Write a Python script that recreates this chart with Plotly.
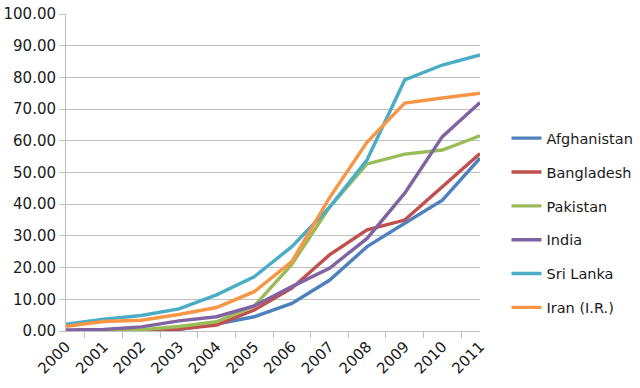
import plotly.graph_objects as go

years = ["2000", "2001", "2002", "2003", "2004", "2005", "2006", "2007", "2008", "2009", "2010", "2011"]
afghanistan = [0.05, 0.1, 0.1, 0.5, 2.2, 4.5, 8.7, 16.0, 26.6, 34.0, 41.3, 54.5]
bangladesh = [0.05, 0.1, 0.2, 0.6, 1.9, 6.6, 13.5, 24.0, 31.9, 35.0, 45.5, 56.0]
pakistan = [0.1, 0.2, 0.4, 1.4, 2.9, 7.9, 21.0, 39.0, 52.7, 55.8, 57.1, 61.6]
india = [0.3, 0.5, 1.3, 3.2, 4.5, 7.9, 14.0, 19.8, 29.2, 43.5, 61.3, 72.1]
sri_lanka = [2.1, 3.7, 4.9, 7.0, 11.4, 17.1, 26.6, 39.0, 54.0, 79.2, 83.9, 87.1]
iran = [1.5, 3.0, 3.4, 5.2, 7.4, 12.4, 21.9, 42.0, 59.6, 71.9, 73.5, 75.0]

series = [
    ("Afghanistan", afghanistan, "#4F81BD"),
    ("Bangladesh", bangladesh, "#C0504D"),
    ("Pakistan", pakistan, "#9BBB59"),
    ("India", india, "#8064A2"),
    ("Sri Lanka", sri_lanka, "#4BACC6"),
    ("Iran (I.R.)", iran, "#F79646"),
]

fig = go.Figure()
for i, (name, vals, col) in enumerate(series):
    fig.add_trace(go.Scatter(x=years, y=vals, name=name, mode="lines",
                             line=dict(color=col, width=3.4),
                             legendgroup=f"g{i}"))

font = "DejaVu Sans"
fig.update_layout(
    width=640, height=388,
    margin=dict(l=66, r=160, t=14, b=57, autoexpand=False),
    plot_bgcolor="white", paper_bgcolor="white",
    font=dict(family=font, size=14, color="#1a1a1a"),
    showlegend=True,
    legend=dict(x=1.064, xanchor="left", y=0.34, yanchor="middle",
                tracegroupgap=12, font=dict(size=14.5, family=font),
                bgcolor="rgba(0,0,0,0)"),
    xaxis=dict(type="category", tickangle=-45, tickson="boundaries",
               ticks="outside", ticklen=6, tickcolor="#bfbfbf",
               showline=True, linecolor="#bfbfbf", linewidth=1,
               showgrid=False, automargin=False,
               tickfont=dict(size=15, family=font)),
    yaxis=dict(range=[0, 100], dtick=10, tickformat=".2f",
               ticks="outside", ticklen=6, tickcolor="#bfbfbf",
               showline=True, linecolor="#bfbfbf", linewidth=1,
               showgrid=True, gridcolor="#bfbfbf", gridwidth=1,
               zeroline=False, automargin=False, ticklabeloverflow="allow",
               tickfont=dict(size=15, family=font)),
)

fig.write_html("out.html", config={"displayModeBar": False},
               post_script="document.body.style.margin='0';")
